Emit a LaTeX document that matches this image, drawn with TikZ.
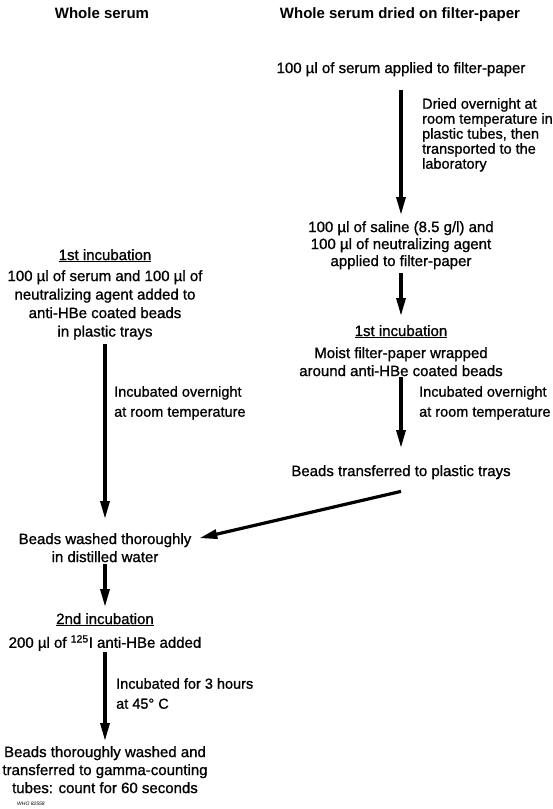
\documentclass[tikz,border=0pt]{standalone}
\usepackage{fontspec}
\setmainfont{Liberation Sans}[UprightFeatures={FakeBold=1}]
\usetikzlibrary{arrows.meta,calc,positioning}

\begin{document}
\begin{tikzpicture}[x=1pt,y=-1pt,
  flow/.style={line width=3.2pt,-{Triangle[length=18pt,width=9pt]}},
  txt/.style={inner sep=0pt,align=center,anchor=north,font=\fontsize{15}{18}\selectfont},
  note/.style={inner sep=0pt,align=left,anchor=north west,font=\fontsize{14.5}{20}\selectfont},
  head/.style={inner sep=0pt,anchor=north,font=\bfseries\fontsize{15}{18}\selectfont}]
\useasboundingbox (0,0) rectangle (552,809);
% column heads
\node[head] (hdA) at (102,7) {Whole serum};
\node[head] (hdB) at (400,7) {Whole serum dried on filter-paper};
% right column: dried serum
\node[txt] (fp) at (401,62) {100 µl of serum applied to filter-paper};
\node[note,font=\fontsize{14.5}{15}\selectfont] (dryLab) at (422,98)
  {Dried overnight at\\room temperature in\\plastic tubes, then\\transported to the\\laboratory};
\node[txt,font=\fontsize{15}{17}\selectfont] (sal) at (401,221)
  {100 µl of saline (8.5 g/l) and\\100 µl of neutralizing agent\\applied to filter-paper};
\node[txt] (incR) at (401,325) {\underline{1st incubation}};
\node[txt] (moist) at (401,347) {Moist filter-paper wrapped\\around anti-HBe coated beads};
\node[note] (incRlab) at (419,386) {Incubated overnight\\at room temperature};
\node[txt] (trans) at (401,465) {Beads transferred to plastic trays};
% left column: whole serum
\node[txt] (incL) at (105,249) {\underline{1st incubation}};
\node[txt,font=\fontsize{15}{18.5}\selectfont] (mixL) at (105,270)
  {100 µl of serum and 100 µl of\\neutralizing agent added to\\anti-HBe coated beads\\in plastic trays};
\node[note] (incLlab) at (114,386) {Incubated overnight\\at room temperature};
\node[txt] (wash) at (105,533) {Beads washed thoroughly\\in distilled water};
\node[txt] (inc2) at (105,613) {\underline{2nd incubation}};
\node[txt] (anti) at (105,635) {200 µl of \textsuperscript{125}I anti-HBe added};
\node[note] (hrLab) at (116,678) {Incubated for 3 hours\\at 45° C};
\node[txt] (count) at (105,746)
  {Beads thoroughly washed and\\transferred to gamma-counting\\tubes: count for 60 seconds};
\node[inner sep=0pt,anchor=west,font=\itshape\fontsize{5}{6}\selectfont] (who) at (17,804) {WHO 82558};
% arrows
\draw[flow,shorten <=14pt,shorten >=6pt] (fp) -- (sal);
\draw[flow,shorten <=4pt,shorten >=9pt] (sal) -- (incR);
\draw[flow,shorten <=1pt,shorten >=17pt] (moist) -- (trans);
\draw[flow,shorten >=8pt] ([yshift=-12pt]trans.south) -- ([yshift=-7pt]wash.north east);
\draw[flow,shorten <=4pt,shorten >=14pt] (mixL) -- (wash);
\draw[flow,shorten <=2pt,shorten >=6pt] (wash) -- (inc2);
\draw[flow,shorten <=1pt,shorten >=5pt] (anti) -- (count);
\end{tikzpicture}
\end{document}
